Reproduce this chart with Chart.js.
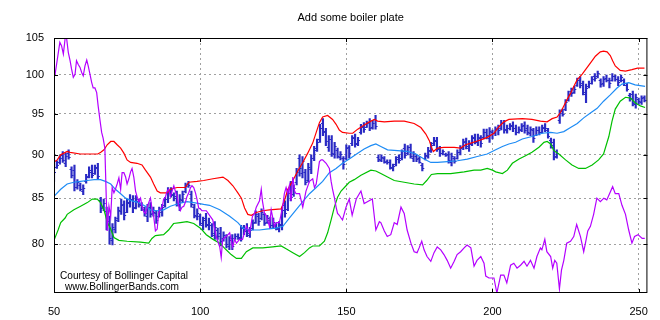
<!DOCTYPE html>
<html>
<head>
<meta charset="utf-8">
<script src="https://cdn.jsdelivr.net/npm/chart.js@4.4.0/dist/chart.umd.min.js"></script>
<style>
    html, body { margin: 0; padding: 0; background: #fff; }
</style>
</head>
<body>
<canvas id="chart" width="660" height="320"></canvas>
<script>
const chartTitle = 'Add some boiler plate'
const credits = ['Courtesy of Bollinger Capital', 'www.BollingerBands.com']
const xTicks = [50, 100, 150, 200, 250]
const yTicks = [80, 85, 90, 95, 100, 105]

// one bar per day, starting at day 50
const firstDay = 50
const high = [
    90.1, 89.3, 89.9, 90.4, 90.2, 90.6, 88.6, 88.8, 87.1, 86.7,
    86.5, 87.7, 88.6, 88.8, 88.8, 89.0, 85.1, 84.9, 84.0, 83.0,
    82.2, 82.9, 84.0, 84.9, 84.7, 84.9, 85.4, 85.3, 85.3, 84.9,
    84.5, 84.0, 84.3, 84.5, 84.0, 83.6, 84.0, 84.3, 85.1, 86.2,
    86.2, 85.6, 85.8, 85.4, 85.8, 86.7, 86.9, 85.8, 84.3, 83.8,
    83.2, 82.9, 83.3, 82.8, 82.2, 82.4, 81.7, 81.8, 81.3, 81.0,
    80.8, 81.0, 81.1, 81.1, 82.0, 82.0, 82.2, 81.8, 82.6, 83.6,
    83.3, 83.8, 83.3, 83.1, 82.9, 82.8, 82.2, 82.4, 84.0, 84.7,
    86.0, 86.9, 86.5, 88.4, 90.0, 89.8, 88.3, 89.0, 90.0, 91.0,
    91.9, 93.7, 94.4, 93.2, 92.3, 92.3, 91.5, 90.8, 90.4, 89.8,
    91.2, 91.1, 92.3, 92.5, 92.1, 93.7, 93.9, 94.1, 94.4, 94.2,
    94.8, 90.0, 90.0, 89.8, 89.4, 89.4, 88.9, 89.8, 90.0, 90.6,
    91.3, 91.1, 91.3, 90.4, 90.0, 89.8, 89.0, 90.2, 90.9, 91.5,
    92.1, 92.1, 91.0, 90.6, 90.2, 90.4, 90.2, 89.8, 90.6, 91.1,
    91.9, 92.0, 91.7, 92.3, 92.5, 92.5, 92.3, 93.1, 93.1, 93.3,
    93.0, 93.4, 93.6, 94.2, 94.2, 93.6, 93.8, 94.0, 93.6, 93.4,
    93.8, 94.0, 93.6, 93.4, 93.2, 93.4, 93.4, 93.6, 93.8, 93.2,
    92.0, 91.9, 90.6, 95.5, 95.6, 96.8, 97.9, 98.3, 98.5, 99.6,
    99.8, 99.2, 98.8, 99.2, 99.8, 100.2, 100.5, 99.5, 99.8, 100.0,
    99.6, 100.2, 100.0, 99.8, 100.0, 99.5, 98.9, 97.6, 97.9, 97.5,
    97.0, 97.3, 97.3
]
const low = [
    86.9, 88.4, 88.9, 89.1, 88.6, 89.5, 87.3, 85.8, 86.0, 85.8,
    85.4, 86.7, 87.3, 87.3, 87.7, 87.1, 83.4, 83.6, 81.5, 80.0,
    79.9, 81.2, 82.4, 83.2, 82.6, 83.4, 84.0, 83.4, 83.8, 84.0,
    83.6, 83.0, 82.4, 82.9, 83.0, 82.2, 82.9, 83.0, 84.0, 84.5,
    85.1, 84.7, 84.1, 83.6, 84.5, 85.6, 86.2, 84.0, 82.8, 82.6,
    82.0, 81.5, 81.8, 81.5, 80.8, 80.5, 80.5, 79.8, 80.3, 79.6,
    79.4, 79.4, 80.5, 80.5, 80.3, 81.0, 80.8, 80.7, 81.5, 82.2,
    82.0, 82.6, 82.0, 82.2, 81.7, 81.7, 81.5, 81.3, 81.5, 82.9,
    83.6, 84.7, 85.2, 86.5, 87.5, 87.3, 86.5, 86.8, 87.8, 89.3,
    90.4, 91.5, 92.3, 91.1, 90.4, 89.8, 89.6, 89.6, 89.4, 88.3,
    89.4, 89.6, 91.1, 90.9, 91.1, 92.5, 92.7, 93.3, 92.9, 93.1,
    93.1, 89.2, 89.2, 89.0, 88.9, 88.3, 88.1, 88.7, 89.0, 89.4,
    89.6, 90.0, 89.6, 89.2, 89.2, 89.0, 88.1, 89.4, 89.6, 90.3,
    91.1, 90.4, 89.8, 90.0, 89.8, 89.0, 88.7, 89.0, 89.5, 90.0,
    90.6, 90.7, 90.4, 91.1, 91.3, 91.1, 90.9, 91.9, 91.9, 91.5,
    91.9, 92.3, 92.4, 93.0, 92.6, 92.6, 93.0, 92.8, 92.4, 92.6,
    92.8, 92.6, 92.4, 92.3, 91.5, 92.3, 92.4, 92.6, 92.8, 92.0,
    90.8, 89.4, 89.6, 93.8, 94.7, 95.4, 96.6, 97.2, 97.6, 98.5,
    98.3, 97.4, 96.4, 98.3, 98.8, 99.2, 99.6, 98.4, 98.5, 99.1,
    98.3, 99.2, 99.2, 98.6, 99.1, 98.6, 97.9, 96.6, 96.0, 95.7,
    96.2, 96.2, 96.5
]
const open = [
    89.5, 88.6, 89.1, 90.0, 89.0, 90.2, 88.3, 88.2, 86.3, 86.5,
    85.8, 86.9, 87.5, 88.2, 87.9, 88.6, 84.8, 84.0, 83.6, 82.5,
    80.4, 81.6, 82.8, 83.6, 84.3, 83.5, 84.5, 84.9, 84.0, 84.7,
    84.2, 83.8, 83.0, 84.0, 83.3, 83.4, 83.0, 83.5, 84.2, 84.9,
    85.9, 85.3, 85.2, 84.2, 84.8, 85.8, 86.6, 85.5, 84.0, 83.0,
    83.0, 82.0, 82.8, 82.0, 82.0, 81.0, 81.5, 81.2, 80.6, 80.8,
    79.8, 80.6, 80.6, 80.9, 80.6, 81.8, 81.6, 81.0, 81.7, 82.4,
    83.0, 82.8, 83.2, 82.4, 82.6, 82.0, 82.0, 81.6, 82.0, 84.2,
    83.8, 86.0, 85.5, 86.8, 89.6, 87.9, 88.0, 87.1, 88.3, 89.6,
    90.8, 91.9, 93.8, 92.9, 90.9, 91.9, 90.1, 90.6, 89.7, 89.6,
    89.6, 90.9, 91.4, 92.1, 91.4, 92.7, 93.5, 93.4, 94.0, 93.4,
    94.3, 89.8, 89.4, 89.6, 89.3, 89.2, 88.4, 88.9, 89.7, 89.6,
    90.8, 90.2, 90.9, 89.6, 89.9, 89.6, 88.8, 89.6, 89.9, 90.5,
    91.4, 91.8, 90.7, 90.2, 90.1, 90.1, 89.2, 89.6, 89.6, 90.3,
    90.9, 91.6, 90.8, 91.4, 92.1, 91.5, 92.0, 92.1, 92.8, 92.0,
    92.8, 92.6, 93.2, 93.2, 93.8, 93.0, 93.2, 93.6, 93.3, 92.8,
    93.0, 93.6, 93.2, 92.6, 93.0, 92.4, 93.0, 92.8, 93.4, 93.0,
    91.8, 91.5, 89.9, 94.2, 95.3, 95.6, 96.8, 97.9, 97.8, 98.7,
    99.4, 98.9, 97.5, 98.5, 99.0, 99.8, 99.8, 99.3, 98.9, 99.6,
    99.3, 99.4, 99.8, 99.5, 99.3, 99.4, 98.7, 97.4, 97.5, 96.3,
    96.9, 96.5, 97.1
]
const close = [
    88.0, 88.8, 89.6, 89.4, 89.9, 89.7, 87.6, 86.3, 86.8, 86.0,
    86.2, 87.4, 88.0, 87.6, 88.5, 87.5, 83.9, 84.5, 82.0, 80.6,
    81.8, 82.6, 83.7, 84.2, 83.1, 84.6, 84.8, 83.9, 84.9, 84.3,
    84.0, 83.4, 83.9, 83.2, 83.5, 82.6, 83.7, 84.0, 84.9, 85.8,
    85.5, 85.0, 84.5, 84.9, 85.5, 86.4, 86.5, 84.4, 83.1, 83.4,
    82.3, 82.6, 82.2, 82.4, 81.2, 81.8, 80.9, 80.3, 81.0, 80.0,
    80.4, 79.8, 80.9, 80.7, 81.7, 81.4, 81.2, 81.5, 82.3, 83.2,
    82.5, 83.5, 82.3, 82.8, 82.0, 82.4, 81.7, 82.1, 83.7, 83.4,
    85.6, 85.1, 86.2, 88.0, 88.4, 89.3, 86.8, 88.6, 89.6, 90.6,
    91.5, 93.2, 92.8, 91.6, 91.9, 90.2, 91.1, 89.9, 90.1, 88.9,
    90.8, 90.2, 92.0, 91.3, 91.8, 93.4, 93.1, 93.8, 93.3, 93.9,
    93.5, 89.5, 89.8, 89.2, 89.1, 88.6, 88.7, 89.5, 89.4, 90.4,
    90.0, 90.9, 89.9, 90.2, 89.5, 89.2, 88.4, 90.0, 90.6, 91.2,
    91.7, 90.8, 90.2, 90.4, 90.0, 89.4, 89.9, 89.3, 90.3, 90.8,
    91.5, 91.0, 91.3, 92.0, 91.6, 92.2, 91.4, 92.8, 92.4, 92.9,
    92.6, 93.1, 93.0, 93.9, 93.1, 93.3, 93.5, 93.2, 92.8, 93.1,
    93.5, 93.0, 92.7, 93.1, 92.0, 93.0, 92.8, 93.3, 93.2, 92.3,
    91.2, 89.8, 90.2, 95.1, 95.0, 96.5, 97.5, 97.6, 98.2, 99.3,
    98.7, 97.8, 98.3, 98.9, 99.5, 99.6, 100.2, 98.8, 99.5, 99.4,
    99.0, 99.9, 99.5, 99.1, 99.7, 98.9, 98.2, 97.0, 96.4, 97.1,
    96.6, 97.0, 96.8
]

// bands
const upperX = [50.3, 51.1, 52.3, 53.4, 54.5, 55.5, 59, 65, 66, 67.1, 68.2, 69.4, 70.5, 71.6, 72.8, 73.9, 75, 76.2, 78.4, 80.1,
    81.3, 83, 84.1, 85.3, 86.4, 88.7, 89.8, 92.1, 94.9, 96.1, 98.9, 101.2, 104.4, 107.8, 109.5, 111.2, 112.9, 114.1, 115.2, 116.3,
    117.5, 119.2, 121.4, 123.7, 127.7, 128.8, 130, 131.7, 133.4, 135.1, 136.8, 138.5, 139.7, 140.8, 141.9, 143.6, 145.3, 146.5, 147.6, 148.7,
    151, 152.2, 153.9, 155.6, 157.9, 159.6, 160.7, 163, 166.4, 169.8, 173.2, 175.5, 177.2, 178.4, 179.2, 179.8, 181.2, 183.4, 186.9, 189.1,
    190.8, 192.6, 194.3, 196, 198.2, 200.5, 202.2, 203.9, 205.6, 210.2, 213.5, 216.4, 218.7, 220.4, 222.1, 223.3, 224.4, 225.5, 226.7, 227.8,
    229, 230.7, 232.4, 234.1, 235.2, 236.9, 238, 239.2, 240.3, 241.1, 242, 243.7, 245.5, 247.7, 249.6, 252]
const upperY = [89.2, 89.4, 90.0, 90.2, 90.4, 90.3, 90.1, 90.1, 90.3, 90.6, 91.2, 91.6, 91.6, 91.2, 90.8, 90.2, 89.4, 89.1, 89.0, 88.8,
    88.2, 87.4, 86.6, 85.8, 85.6, 85.6, 86.0, 86.2, 86.2, 86.8, 86.9, 87.0, 87.2, 87.4, 87.0, 86.4, 85.6, 85.0, 83.9, 83.2,
    83.1, 83.4, 83.6, 83.7, 83.8, 84.7, 86.0, 87.0, 88.1, 89.1, 90.2, 91.4, 92.7, 93.9, 94.6, 94.8, 94.3, 93.7, 93.0, 92.7,
    92.6, 92.6, 93.1, 93.5, 94.0, 94.3, 94.1, 94.0, 94.1, 94.1, 93.8, 93.3, 92.5, 91.7, 90.8, 90.4, 90.8, 90.9, 90.9, 90.8,
    91.2, 91.4, 91.6, 91.8, 92.1, 92.6, 93.4, 94.0, 94.3, 94.4, 94.3, 94.1, 94.0, 94.4, 94.6, 95.2, 96.0, 96.8, 97.6, 98.5,
    99.4, 100.1, 101.0, 101.9, 102.5, 103.1, 103.2, 103.1, 102.6, 101.9, 101.2, 100.6, 100.5, 100.7, 100.9, 100.9]

const middleX = [50, 52.3, 54.5, 56.8, 59.1, 61.4, 63.7, 65.9, 67.6, 69.4, 71, 72.8, 74.5, 76.7, 79, 81.3, 83, 85.3, 87.5, 89.8,
    92.7, 95.5, 97.8, 101.2, 103.2, 106.7, 110.1, 112.9, 114.6, 116.9, 120.3, 122.6, 126, 128.3, 130.5, 132.8, 135.1, 137.4, 139.7, 141.9,
    144.2, 146.5, 148.7, 151, 153.9, 156.1, 158.4, 160.1, 161.8, 164.1, 167.5, 170.9, 173.8, 176.6, 178.9, 181.2, 184.6, 188, 191.4, 194.8,
    198.2, 201.1, 203.4, 205.6, 207.9, 210.2, 213.5, 217, 219.9, 222.1, 224.4, 226.7, 229, 231.2, 233.5, 235.8, 238, 240.3, 242.6, 244.3,
    246.6, 248.8, 252.2]
const middleY = [85.2, 86.0, 86.6, 86.8, 86.9, 87.0, 87.1, 87.1, 86.9, 86.6, 86.0, 85.5, 85.0, 84.7, 84.5, 84.1, 83.7, 83.6, 83.7, 84.1,
    84.4, 84.6, 84.5, 84.3, 84.2, 83.7, 83.0, 82.3, 81.7, 81.5, 81.5, 81.6, 81.7, 81.9, 82.8, 83.7, 84.6, 85.5, 86.2, 86.9,
    87.9, 88.4, 89.0, 89.5, 90.2, 90.7, 91.1, 91.3, 91.0, 90.6, 90.5, 90.4, 90.1, 89.5, 89.1, 89.1, 89.2, 89.3, 89.5, 89.8,
    90.1, 90.6, 91.0, 91.3, 91.5, 91.9, 92.2, 92.6, 92.7, 92.6, 92.8, 93.3, 93.8, 94.5, 95.1, 95.7, 96.6, 97.4, 98.3, 98.8,
    99.0, 98.7, 98.5]

const lowerX = [50, 51.4, 52.3, 53.8, 54.5, 56.8, 59.1, 61.4, 63.1, 64.8, 65.9, 67.1, 68.2, 69.4, 70.5, 72.2, 75, 79.6, 82.4, 83.5,
    84.7, 87.5, 89.2, 90.9, 93.2, 95.5, 97.8, 100.1, 102.1, 104.4, 106.7, 108.9, 110.6, 112.4, 114.1, 115.8, 118, 121.4, 124.8, 127.7,
    129.4, 131.7, 134, 135.7, 137.4, 138.5, 140.8, 142.5, 143.6, 144.8, 145.9, 147, 148.2, 149.9, 151, 152.7, 155, 158.4, 160.1, 161.8,
    164.1, 166.4, 169.8, 173.2, 176.1, 177.5, 179.1, 181.2, 185.7, 190.3, 193.7, 196, 198.2, 200, 201.1, 203.4, 205.1, 206.8, 209.1, 211.3,
    213.5, 215.9, 217.6, 218.7, 219.9, 221, 222.7, 225, 227.2, 229.5, 231.8, 234.1, 236.3, 238, 239.8, 240.9, 242, 243.7, 245.5, 247.2,
    248.8, 250.6, 252.2]
const lowerY = [80.4, 81.5, 82.3, 82.8, 83.2, 83.7, 84.1, 84.5, 84.9, 84.9, 84.5, 83.7, 82.4, 81.6, 80.7, 80.4, 80.3, 80.2, 80.1, 80.6,
    80.9, 81.0, 81.5, 82.2, 82.3, 82.4, 82.2, 81.7, 81.0, 80.5, 80.1, 79.4, 78.9, 78.5, 78.5, 79.2, 79.6, 79.6, 79.7, 79.8,
    79.5, 79.1, 78.7, 79.1, 79.6, 79.8, 79.8, 80.3, 81.2, 82.6, 84.0, 85.1, 85.8, 86.4, 86.8, 87.1, 87.6, 88.2, 88.1, 87.8,
    87.4, 87.0, 86.8, 86.6, 86.5, 87.0, 87.7, 87.8, 87.8, 88.0, 88.2, 88.2, 88.4, 88.2, 88.0, 87.8, 88.2, 89.0, 89.5, 89.9,
    90.3, 90.9, 91.5, 91.6, 91.3, 90.5, 90.1, 89.4, 88.8, 88.4, 88.4, 88.8, 89.4, 90.1, 92.2, 94.1, 95.6, 96.6, 97.1, 97.0,
    96.4, 96.0, 95.8]

// purple indicator line
const purpleX = [50.3, 52, 52.6, 53.2, 53.8, 54.3, 54.9, 55.5, 56, 56.6, 57.2, 57.7, 58.3, 58.9, 59.5, 60, 60.6, 61.2, 61.7, 62.3,
    62.9, 63.4, 64, 64.6, 65.1, 65.7, 66.3, 66.8, 67.4, 68.2, 68.8, 69.4, 69.9, 70.5, 71, 71.6, 72.2, 72.8, 73.3, 73.9,
    74.5, 75, 75.6, 76.2, 76.7, 77.3, 77.9, 78.4, 79, 79.6, 80.1, 80.7, 81.3, 81.8, 82.4, 83, 83.5, 84.1, 84.7, 85.3,
    85.8, 86.4, 87, 87.5, 88.1, 88.7, 89.2, 89.8, 90.4, 91, 91.5, 92.1, 92.7, 93.2, 93.8, 94.4, 95, 95.5, 96.1, 96.7,
    97.2, 97.8, 98.4, 98.9, 99.5, 100.1, 100.6, 102.1, 104.3, 105.5, 106.7, 107.2, 107.7, 108.9, 110.1, 111.1, 111.8, 112.4, 113.5, 114.5,
    115.8, 116.9, 117.9, 118.6, 119.2, 120.3, 120.9, 121.3, 122, 122.6, 123.7, 124.3, 125.4, 126, 127.1, 128.2, 128.8, 129.4, 130, 130.5,
    131.1, 131.7, 132.3, 132.8, 134, 135.1, 136.2, 137.4, 138.5, 139.1, 139.7, 140.8, 141.4, 141.9, 143.1, 144.2, 144.8, 145.3, 145.9, 146.5,
    147, 147.6, 148.2, 148.7, 149.9, 151, 152, 153.4, 155, 156.1, 157.2, 158.9, 160.1, 161.3, 161.8, 163, 164, 165.2, 166.4, 167.4,
    168.7, 169.8, 170.8, 172.1, 173.2, 174.2, 174.9, 175.8, 176.6, 177.6, 178.9, 180, 181.1, 182.3, 183.4, 184.5, 185.7, 186.9, 187.9, 189.1,
    190.3, 191.3, 192.6, 193.7, 194.7, 196, 197.1, 197.7, 198.8, 200.5, 201.5, 202.8, 203.9, 204.9, 206.2, 207.3, 208.4, 209.6, 210.8, 211.8,
    213, 214.2, 215.2, 216.4, 216.9, 217.9, 218.6, 219.9, 220.6, 221.3, 222, 222.9, 223.6, 224.4, 225.4, 226.7, 227.8, 228.8, 230.1, 231.2,
    231.8, 232.6, 233.5, 234.6, 235.7, 236.9, 238.1, 239.1, 240.3, 241.1, 242, 243.2, 244.3, 245.5, 246.6, 247.7, 248.6, 249.8, 251.2, 252.1]
const purpleY = [99.9, 104.4, 103.9, 102.8, 104.9, 105, 103, 101.9, 100.8, 99.7, 100.1, 101.9, 101.4, 101, 100.3, 99.9, 101.2, 102, 101.2, 100.1,
    99, 98.3, 98.3, 97.7, 96, 94.3, 92.7, 92, 90.8, 81.4, 84.1, 83, 86.2, 85.6, 86, 86.6, 87.3, 86, 87.9, 87.9,
    87.4, 86.6, 87.2, 88, 88.4, 87.4, 85.8, 85.2, 84.6, 85, 84.1, 83.5, 83.3, 83.9, 84.5, 85, 83.9, 83, 81.4, 81.6,
    83.3, 83.8, 84, 84.9, 85.1, 85.8, 86, 85.2, 85.8, 86.4, 85.8, 85.2, 84.1, 83.6, 84, 84.1, 84.6, 85.2, 85.6, 86.2,
    86.4, 86.2, 85.6, 84.9, 83.9, 83.8, 83.6, 83.6, 82.6, 80.8, 79.7, 78.6, 80.5, 80.8, 81.2, 79.7, 80.5, 80.1, 80.5, 80.5,
    81.9, 81.2, 83, 83.3, 84, 84.7, 86, 84.7, 83.3, 83.1, 81.9, 83.7, 81.9, 82.3, 82.3, 84, 85.5, 86.2, 85.5, 86.4,
    84.7, 87.4, 85.8, 85.5, 85.5, 84, 85.8, 86.9, 87.2, 86.2, 86.6, 89.2, 89.4, 89.4, 89, 88.4, 86.9, 86, 85.1, 84,
    83.3, 83.1, 82.8, 82.6, 84, 84.9, 83.1, 84.9, 85.8, 84.4, 84.6, 84.9, 81.5, 82.4, 82.3, 81.4, 80.8, 81, 82.3, 82.1,
    84, 83.3, 81.5, 80.1, 79.2, 79.1, 79.6, 80.3, 79.4, 78.7, 78.2, 79.1, 79.7, 79.4, 78.9, 78.3, 77.5, 78.2, 78.9, 79.2,
    79.6, 79.9, 79.6, 77.7, 78.3, 78.7, 78, 76.7, 76.5, 76.5, 75, 76.8, 76.8, 76, 77.8, 78, 77.5, 77.8, 78.2, 77.7,
    78.3, 77.5, 78.7, 79.6, 79.4, 80.5, 79.2, 78.7, 77.5, 78.3, 78, 75.4, 77.3, 78.3, 80.1, 80.3, 80.8, 82.1, 80.8, 79.2,
    80.1, 81.4, 81.9, 83.2, 85, 84.6, 85, 84.8, 85.7, 86.3, 85.5, 85.5, 84.2, 83.2, 81.5, 80.1, 80.8, 81, 80.6, 80.6]

Chart.defaults.font.family = '"Liberation Sans", Arial, sans-serif'
Chart.defaults.font.size = 11
Chart.defaults.color = '#000'

function toPoints(xs, ys) {
    return xs.map((x, i) => ({ x, y: ys[i] }))
}

const barData = high.map((h, i) => ({ x: firstDay + i, y: [low[i], h] }))

function lineSet(xs, ys, color, order) {
    return {
        type: 'line',
        data: toPoints(xs, ys),
        borderColor: color,
        borderWidth: 1.2,
        pointRadius: 0,
        tension: 0,
        order
    }
}

// open / close nubs on each bar
const ohlcTicks = {
    id: 'ohlcTicks',
    afterDatasetDraw(chart, args) {
        if (args.index !== 0) return
        const { ctx, chartArea, scales: { x, y } } = chart
        ctx.save()
        ctx.beginPath()
        ctx.rect(chartArea.left, chartArea.top, chartArea.width, chartArea.height)
        ctx.clip()
        ctx.strokeStyle = '#2a2ac4'
        ctx.lineWidth = 1
        ctx.beginPath()
        high.forEach((h, i) => {
            const px = x.getPixelForValue(firstDay + i)
            const yo = Math.round(y.getPixelForValue(open[i])) + 0.5
            const yc = Math.round(y.getPixelForValue(close[i])) + 0.5
            ctx.moveTo(px - 2, yo)
            ctx.lineTo(px, yo)
            ctx.moveTo(px, yc)
            ctx.lineTo(px + 2, yc)
        })
        ctx.stroke()
        ctx.restore()
    }
}

const frame = {
    id: 'frame',
    beforeDraw(chart) {
        const { ctx } = chart
        ctx.save()
        ctx.fillStyle = '#fff'
        ctx.fillRect(0, 0, chart.width, chart.height)
        ctx.restore()
    },
    afterDraw(chart) {
        const { ctx, chartArea: a, scales: { x, y } } = chart
        ctx.save()
        ctx.strokeStyle = '#000'
        ctx.lineWidth = 1
        ctx.strokeRect(a.left + 0.5, a.top + 0.5, a.width - 1, a.height - 1)
        ctx.beginPath()
        xTicks.forEach(v => {
            const px = Math.round(x.getPixelForValue(v)) + 0.5
            ctx.moveTo(px, a.bottom); ctx.lineTo(px, a.bottom - 4)
            ctx.moveTo(px, a.top); ctx.lineTo(px, a.top + 4)
        })
        yTicks.forEach(v => {
            const py = Math.round(y.getPixelForValue(v)) + 0.5
            ctx.moveTo(a.left, py); ctx.lineTo(a.left + 4, py)
            ctx.moveTo(a.right, py); ctx.lineTo(a.right - 4, py)
        })
        ctx.stroke()

        ctx.fillStyle = '#000'
        ctx.font = '11px "Liberation Sans", Arial, sans-serif'
        ctx.textAlign = 'center'
        ctx.textBaseline = 'middle'
        ctx.fillText(chartTitle, (a.left + a.right) / 2, 17.5)

        ctx.textAlign = 'left'
        ctx.fillText(credits[0], a.left + 6, 276, 128)
        ctx.fillText(credits[1], a.left + 11, 286.5, 114)
        ctx.restore()
    }
}

new Chart(document.getElementById('chart'), {
    type: 'line',
    data: {
        datasets: [
            {
                type: 'bar',
                data: barData,
                backgroundColor: '#2a2ac4',
                borderWidth: 0,
                barThickness: 1.5,
                order: 10
            },
            lineSet(middleX, middleY, '#1e8cf5', 4),
            lineSet(upperX, upperY, '#ff0000', 3),
            lineSet(lowerX, lowerY, '#00c000', 2),
            lineSet(purpleX, purpleY, '#b400ff', 1)
        ]
    },
    options: {
        responsive: false,
        animation: false,
        events: [],
        layout: { padding: { top: 38, right: 12, bottom: 0, left: 0 } },
        plugins: {
            legend: { display: false },
            tooltip: { enabled: false },
            title: { display: false }
        },
        scales: {
            x: {
                type: 'linear',
                min: 50,
                max: 253,
                offset: false,
                afterBuildTicks: scale => { scale.ticks = xTicks.map(v => ({ value: v })) },
                afterFit: scale => { scale.height = 27 },
                ticks: { padding: 12, autoSkip: false, maxRotation: 0, callback: v => String(v) },
                grid: { color: '#a0a0a0', lineWidth: 1, drawTicks: false, offset: false },
                border: { display: false, dash: [2, 3] }
            },
            y: {
                type: 'logarithmic',
                min: 75,
                max: 105,
                afterBuildTicks: scale => { scale.ticks = yTicks.map(v => ({ value: v })) },
                afterFit: scale => { scale.width = 54 },
                ticks: { padding: 10, autoSkip: false, callback: v => String(v) },
                grid: { color: '#a0a0a0', lineWidth: 1, drawTicks: false },
                border: { display: false, dash: [2, 3] }
            }
        }
    },
    plugins: [ohlcTicks, frame]
})
</script>
</body>
</html>
